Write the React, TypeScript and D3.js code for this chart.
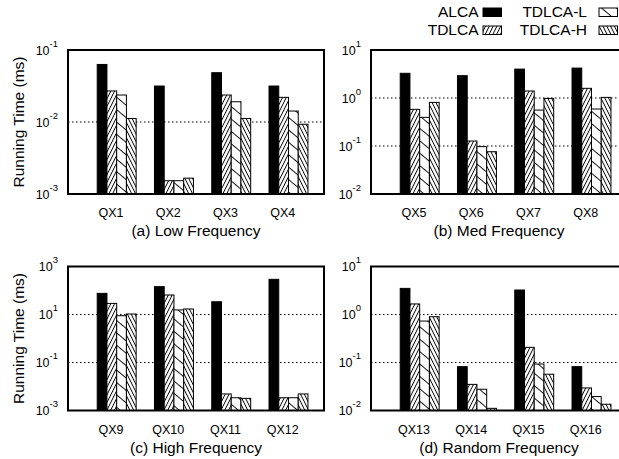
import React from "react";
import * as d3 from "d3";

// series + legend
const seriesNames = ["ALCA", "TDLCA", "TDLCA-L", "TDLCA-H"];

// (a) low frequency
const lowLabels = ["QX1", "QX2", "QX3", "QX4"];
const lowAlca = [0.063, 0.0316, 0.0484, 0.0316];
const lowTdlca = [0.027, 0.00153, 0.0237, 0.022];
const lowTdlcaL = [0.0237, 0.00153, 0.0191, 0.0142];
const lowTdlcaH = [0.0112, 0.00166, 0.0112, 0.0093];

// (b) med frequency
const medLabels = ["QX5", "QX6", "QX7", "QX8"];
const medAlca = [3.27, 2.92, 4.0, 4.2];
const medTdlca = [0.58, 0.127, 1.4, 1.59];
const medTdlcaL = [0.395, 0.097, 0.56, 0.59];
const medTdlcaH = [0.81, 0.076, 0.98, 1.03];

// (c) high frequency
const highLabels = ["QX9", "QX10", "QX11", "QX12"];
const highAlca = [76, 145, 34, 292];
const highTdlca = [29, 65, 0.0049, 0.0034];
const highTdlcaL = [8.9, 15.5, 0.0034, 0.0034];
const highTdlcaH = [10.5, 17, 0.0032, 0.0049];

// (d) random frequency
const randLabels = ["QX13", "QX14", "QX15", "QX16"];
const randAlca = [3.5, 0.082, 3.24, 0.082];
const randTdlca = [1.66, 0.035, 0.207, 0.0295];
const randTdlcaL = [0.73, 0.0277, 0.093, 0.0195];
const randTdlcaH = [0.9, 0.0111, 0.057, 0.0135];

const FONT = "'Liberation Sans', Arial, Helvetica, sans-serif";
const fills = ["#000", "url(#pSlash)", "url(#pBackL)", "url(#pBackH)"];

const PW = 256;
const PH = 144;

type PanelProps = {
  left: number;
  top: number;
  labels: string[];
  series: number[][];
  domain: [number, number];
  ticks: number[];
  caption: string;
  ylabel: boolean;
};

function Panel({ left, top, labels, series, domain, ticks, caption, ylabel }: PanelProps) {
  const x = d3.scaleLinear().domain([-0.75, 3.72]).range([left, left + PW]);
  const y = d3.scaleLog().domain(domain).range([top + PH, top]);
  const bw = x(0.17) - x(0);
  const bottom = top + PH;

  return (
    <g>
      {/* grid at inner major ticks */}
      {ticks
        .filter((t) => t > domain[0] && t < domain[1])
        .map((t) => (
          <line key={"g" + t} x1={left} x2={left + PW} y1={y(t)} y2={y(t)}
            stroke="#000" strokeWidth={1} strokeDasharray="1.5,2.5" />
        ))}

      {labels.map((lab, i) =>
        series.map((vals, j) => {
          const x0 = x(i - 0.24 + j * 0.17);
          const yv = y(vals[i]);
          return (
            <rect key={lab + j} x={x0} y={yv} width={bw} height={bottom - yv}
              fill={fills[j]} stroke="#000" strokeWidth={1} />
          );
        })
      )}

      <rect x={left} y={top} width={PW} height={PH} fill="none" stroke="#000" strokeWidth={2} />

      {ticks.map((t) => {
        const e = Math.round(Math.log10(t));
        return (
          <text key={"t" + t} x={left - 10} y={y(t) + 4.5} textAnchor="end" fontSize={12.5} fontFamily={FONT}>
            10<tspan fontSize={9.5} dy={-8}>{e}</tspan>
          </text>
        );
      })}

      {labels.map((lab, i) => (
        <text key={lab} x={x(i)} y={bottom + 23} textAnchor="middle" fontSize={12.5} fontFamily={FONT}>
          {lab}
        </text>
      ))}

      <text x={left + PW / 2} y={bottom + 42} textAnchor="middle" fontSize={15.5} fontFamily={FONT}>
        {caption}
      </text>

      {ylabel && (
        <text transform={`translate(${left - 44},${top + PH / 2}) rotate(-90)`} textAnchor="middle"
          fontSize={15.5} fontFamily={FONT}>
          Running Time (ms)
        </text>
      )}
    </g>
  );
}

export default function App() {
  // legend order: ALCA, TDLCA (col 1), TDLCA-L, TDLCA-H (col 2)
  const legendPos = [
    { tx: 478.5, sx: 483, y: 17 },
    { tx: 478.5, sx: 483, y: 35 },
    { tx: 587, sx: 599, y: 17 },
    { tx: 587, sx: 599, y: 35 },
  ];
  return (
    <svg width={619} height={459} style={{ position: "absolute", left: 0, top: 0, background: "#fff" }}>
      <defs>
        <pattern id="pSlash" patternUnits="userSpaceOnUse" width={3.4} height={10} patternTransform="rotate(26.6)">
          <rect width={3.4} height={10} fill="#fff" />
          <rect x={0} width={0.9} height={10} fill="#000" />
        </pattern>
        <pattern id="pBackL" patternUnits="userSpaceOnUse" width={9.5} height={10} patternTransform="rotate(-50)">
          <rect width={9.5} height={10} fill="#fff" />
          <rect x={0} width={0.9} height={10} fill="#000" />
        </pattern>
        <pattern id="pBackH" patternUnits="userSpaceOnUse" width={3.4} height={10} patternTransform="rotate(-26.6)">
          <rect width={3.4} height={10} fill="#fff" />
          <rect x={0} width={0.9} height={10} fill="#000" />
        </pattern>
      </defs>

      {seriesNames.map((name, j) => {
        const p = legendPos[j];
        return (
          <g key={name}>
            <text x={p.tx} y={p.y} textAnchor="end" fontSize={15.5} fontFamily={FONT}>{name}</text>
            <rect x={p.sx} y={p.y - 9} width={18.5} height={8.5} fill={fills[j]} stroke="#000" strokeWidth={1} />
          </g>
        );
      })}

      <Panel left={68} top={50} labels={lowLabels} series={[lowAlca, lowTdlca, lowTdlcaL, lowTdlcaH]}
        domain={[1e-3, 1e-1]} ticks={[1e-3, 1e-2, 1e-1]} caption="(a) Low Frequency" ylabel />
      <Panel left={371} top={50} labels={medLabels} series={[medAlca, medTdlca, medTdlcaL, medTdlcaH]}
        domain={[1e-2, 1e1]} ticks={[1e-2, 1e-1, 1e0, 1e1]} caption="(b) Med Frequency" ylabel={false} />
      <Panel left={68} top={266.5} labels={highLabels} series={[highAlca, highTdlca, highTdlcaL, highTdlcaH]}
        domain={[1e-3, 1e3]} ticks={[1e-3, 1e-1, 1e1, 1e3]} caption="(c) High Frequency" ylabel />
      <Panel left={371} top={266.5} labels={randLabels} series={[randAlca, randTdlca, randTdlcaL, randTdlcaH]}
        domain={[1e-2, 1e1]} ticks={[1e-2, 1e-1, 1e0, 1e1]} caption="(d) Random Frequency" ylabel={false} />
    </svg>
  );
}
